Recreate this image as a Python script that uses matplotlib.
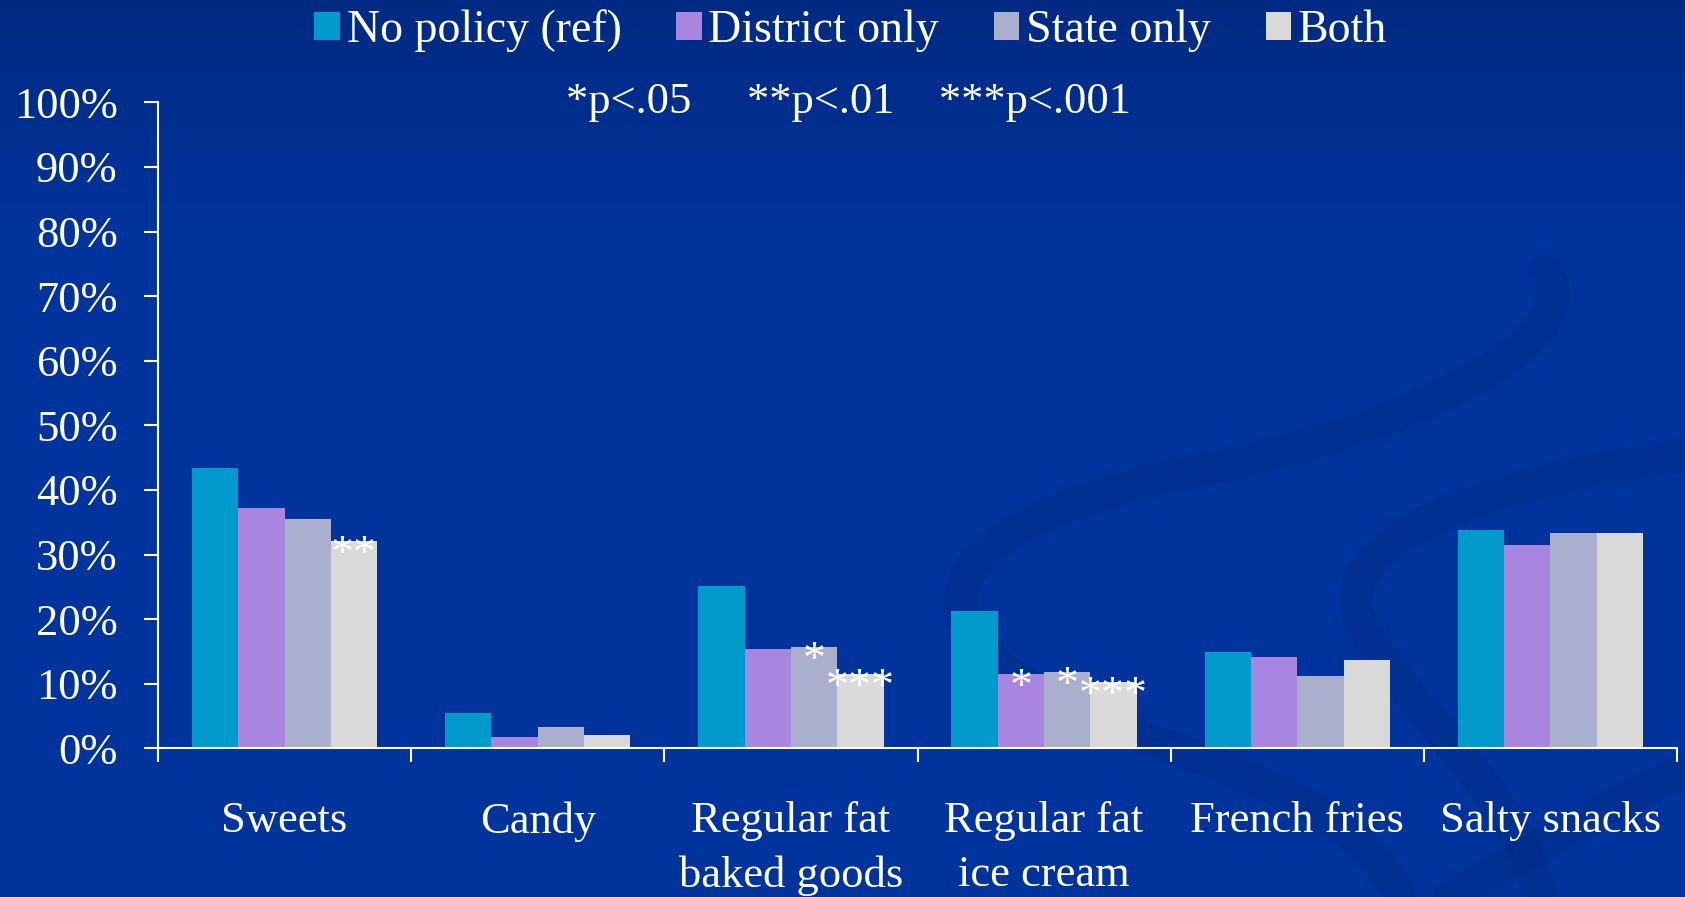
import matplotlib.pyplot as plt
import numpy as np
from matplotlib.path import Path
from matplotlib.patches import PathPatch, Patch
from matplotlib.ticker import FuncFormatter, FixedLocator

plt.rcParams['font.family'] = ['Liberation Serif', 'DejaVu Serif']

# --- data (percent of schools) ---
categories = ["Sweets", "Candy", "Regular fat\nbaked goods", "Regular fat\nice cream",
              "French fries", "Salty snacks"]
series = ["No policy (ref)", "District only", "State only", "Both"]
no_policy = [43.4, 5.5, 25.1, 21.3, 14.9, 33.8]
district_only = [37.2, 1.8, 15.4, 11.5, 14.1, 31.5]
state_only = [35.5, 3.3, 15.7, 11.8, 11.2, 33.3]
both = [32.1, 2.1, 11.5, 10.3, 13.7, 33.3]
# significance marks per series / category
stars_district = ["", "", "", "*", "", ""]
stars_state = ["", "", "*", "*", "", ""]
stars_both = ["**", "", "***", "***", "", ""]

colors = ["#009ACD", "#A886DF", "#A9AFCC", "#D9D9D9"]
values = [no_policy, district_only, state_only, both]
stars = [[""] * 6, stars_district, stars_state, stars_both]

W, H = 1685, 897
fig = plt.figure(figsize=(W / 100, H / 100), dpi=100)

# background: gradient + faint swooshes
bg = fig.add_axes([0, 0, 1, 1], zorder=-10)
grad = np.linspace(0, 1, 200)
grad = np.clip(grad / 0.25, 0, 1)[:, None]
top = np.array([0, 42, 130]) / 255
mid = np.array([0, 51, 155]) / 255
img = top[None, None, :] * (1 - grad[..., None]) + mid[None, None, :] * grad[..., None]
bg.imshow(img, extent=[0, W, H, 0], aspect="auto")
bg.set_xlim(0, W); bg.set_ylim(H, 0)
bg.axis("off")

swoosh_col = np.array([0, 40, 125]) / 255
curves = [
    [(1545, 270), (1590, 330), (1450, 420), (1200, 470),
     (900, 530), (900, 640), (1100, 720),
     (1250, 780), (1350, 800), (1400, 897)],
    [(1685, 455), (1500, 480), (1300, 540), (1370, 640),
     (1420, 720), (1520, 800), (1540, 897)],
    [(1450, 897), (1550, 840), (1620, 800), (1685, 770)],
]
for pts in curves:
    codes = [Path.MOVETO] + [Path.CURVE4] * (len(pts) - 1)
    bg.add_patch(PathPatch(Path(pts, codes), fill=False, edgecolor=swoosh_col,
                           lw=24, alpha=0.27, capstyle="round"))

# main chart
ax = fig.add_axes([158 / W, 1 - 748.3 / H, (1677 - 158) / W, (748.3 - 102.3) / H])
ax.patch.set_alpha(0)
x = np.arange(len(categories))
bw = 0.183
for i, (vals, col, st) in enumerate(zip(values, colors, stars)):
    pos = x + (i - 1.5) * bw
    ax.bar(pos, vals, width=bw, color=col, label=series[i], zorder=2)
    for px_, v, s in zip(pos, vals, st):
        if s:
            ax.annotate(s, (px_, v), xytext=(0, -19), textcoords="offset points",
                        ha="center", va="baseline", color="white", fontsize=33, zorder=3)

ax.set_ylim(0, 100)
ax.set_xlim(-0.5, len(categories) - 0.5)
ax.set_yticks(np.arange(0, 101, 10))
ax.yaxis.set_major_formatter(FuncFormatter(lambda v, _: f"{v:.0f}%"))
ax.xaxis.set_major_locator(FixedLocator(np.arange(-0.5, len(categories), 1)))
ax.xaxis.set_minor_locator(FixedLocator(x))
ax.set_xticklabels([], minor=False)
ax.set_xticklabels(categories, minor=True, linespacing=1.45)
ax.tick_params(axis="x", which="minor", length=0, pad=38, labelsize=32, colors="white")
ax.tick_params(axis="x", which="major", length=10, width=1.5, direction="out", color="white")
ax.tick_params(axis="y", length=10, width=1.5, direction="out", color="white",
               labelcolor="white", labelsize=32, pad=19)
for side in ["top", "right"]:
    ax.spines[side].set_visible(False)
for side in ["left", "bottom"]:
    ax.spines[side].set_color("white")
    ax.spines[side].set_linewidth(1.5)

handles = [Patch(facecolor=c, edgecolor="none") for c in colors]
fig.legend(handles, series, loc="center", bbox_to_anchor=(0.505, 1 - 31 / H), ncol=4,
           frameon=False, fontsize=33, labelcolor="white", handlelength=0.55,
           handleheight=0.55, handletextpad=0.15, columnspacing=1.2, borderpad=0)

fig.text(0.5036, 1 - 102 / H, "*p<.05     **p<.01    ***p<.001", ha="center", va="center",
         color="white", fontsize=32)

fig.savefig("out.png", dpi=100)
